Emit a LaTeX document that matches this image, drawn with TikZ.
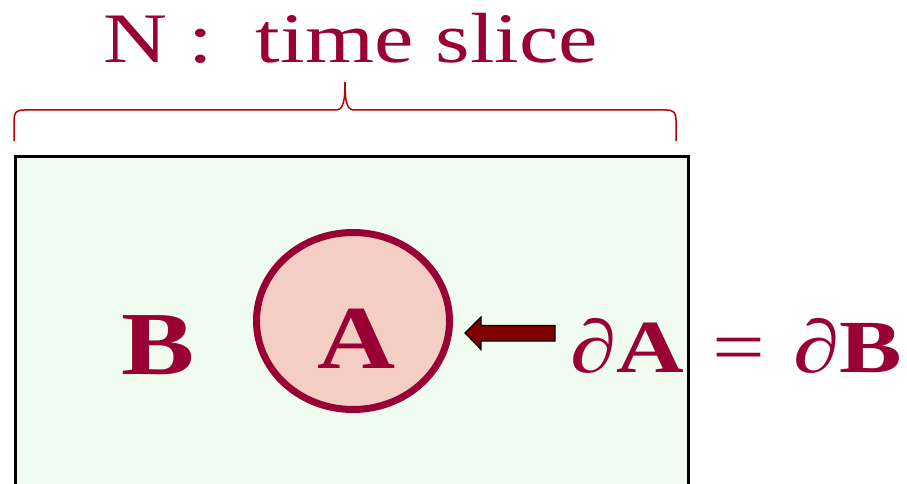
\documentclass[tikz,border=0pt]{standalone}
\usepackage{fontspec}
\setmainfont{Liberation Serif}
\usepackage{graphicx}
\usetikzlibrary{shapes.geometric}
\definecolor{crim}{HTML}{990033}
\definecolor{boxgreen}{HTML}{F1FCF0}
\definecolor{ellpink}{HTML}{F4CEC5}
\definecolor{bracered}{HTML}{C00000}
\definecolor{arrowred}{HTML}{800000}
\tikzset{
  txt/.style={text=crim, inner sep=0pt, anchor=base west},
  slicebox/.style={draw=black, line width=3pt, fill=boxgreen},
  region/.style={ellipse, draw=crim, line width=7pt, fill=ellpink, inner sep=0pt},
  bracestyle/.style={draw=bracered, line width=1.5pt},
  blockarrow/.style={fill=arrowred, draw=black, line width=1.2pt, line join=miter}
}
\begin{document}
\begin{tikzpicture}[x=1pt,y=-1pt]
\useasboundingbox (0,0) rectangle (907,484);
\clip (0,0) rectangle (907,484);
\fill[white] (0,0) rectangle (907,484);
% time slice box
\path[slicebox] (15.5,156.5) rectangle (688.5,520);
% brace
\draw[bracestyle] (14,141) -- (14,120) .. controls (14,113) and (16,110) .. (24,110) -- (335,110)
  .. controls (342,110) and (345,106) .. (345,82)
  .. controls (345,106) and (348,110) .. (355,110) -- (666,110)
  .. controls (674,110) and (676,113) .. (676,120) -- (676,141);
% title
\node[txt] (title) at (103,63) {\fontsize{71}{71}\selectfont\scalebox{1.25}[1]{N\hspace{17pt}:\hspace{34pt}time slice}};
% region A
\node[region, minimum width=193pt, minimum height=177pt] (A) at (353,321) {};
\node[txt] (Alab) at (317,368) {\fontsize{90}{90}\selectfont\scalebox{1.2}[1]{\textbf{A}}};
% B
\node[txt] (B) at (121,374) {\fontsize{90}{90}\selectfont\scalebox{1.22}[1]{\textbf{B}}};
% equation
\node[txt] (eq) at (570,372) {\fontsize{75}{75}\selectfont\scalebox{1.25}[1]{∂\textbf{A}\hspace{0.3em}=\hspace{0.3em}∂\textbf{B}}};
% block arrow
\path[blockarrow] (465,333) -- (481,317) -- (481,325.5) -- (555,325.5) -- (555,341) -- (481,341) -- (481,349.5) -- cycle;
\end{tikzpicture}
\end{document}
